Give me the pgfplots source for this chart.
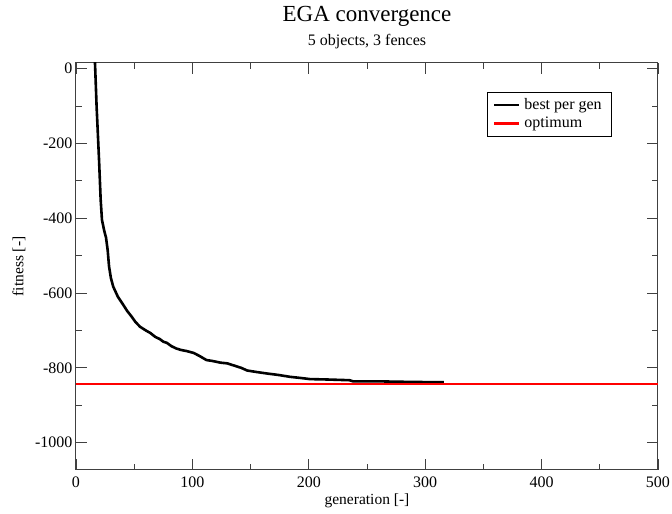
\documentclass[border=0pt]{standalone}
\usepackage{pgfplots}
\pgfplotsset{compat=1.18}
\usepackage{fontspec}
\setmainfont{Liberation Serif}
\begin{document}
\begin{tikzpicture}[x=1pt,y=1pt]
\useasboundingbox (-76,-44) rectangle (596,470);
\begin{axis}[
  at={(0,0)}, anchor=south west,
  scale only axis, width=582pt, height=407pt,
  xmin=0, xmax=500, ymin=-1073, ymax=15,
  xtick={0,100,...,500}, ytick={-1000,-800,...,0},
  minor xtick={50,150,...,450}, minor ytick={-900,-700,...,-100},
  tick align=inside, major tick length=11pt, minor tick length=6pt,
  every tick/.style={black!75, line width=0.9pt},
  axis line style={black!75, line width=1pt},
  tick label style={font=\rmfamily\fontsize{16}{19}\selectfont},
  /pgf/number format/assume math mode=true,
  /pgf/number format/1000 sep={},
  xticklabel style={yshift=-3pt},
  legend style={at={(0.921,0.929)}, anchor=north east, draw=black, line width=0.6pt,
    font=\fontsize{16}{19}\selectfont, row sep=1pt, inner xsep=6pt, inner ysep=4pt,
    nodes={inner xsep=4pt, inner ysep=2.5pt}},
  /tikz/every even column/.append style={column sep=5pt},
  legend cell align=left,
  legend image code/.code={\draw[#1] (0pt,0pt) -- (25pt,0pt);},
]
\addplot[black, line width=2.6pt, line join=round] coordinates {
(16,40) (16.5,0) (17.7,-101) (19.8,-244) (21.2,-351) (22.3,-404) (24,-430)
(25.8,-452) (27.2,-485) (28.4,-529) (30,-560) (32,-583) (36,-610) (40.7,-632)
(44,-648) (47.8,-663) (51,-677) (55,-690) (60,-700) (64,-707) (68,-717)
(72,-723) (75,-730) (78,-733) (82,-742) (86,-748) (90,-752) (95,-755)
(101,-760) (106,-768) (112,-779) (118,-782) (124,-786) (130,-788) (136,-794)
(142,-800) (147,-807) (155,-811) (164,-815) (174,-819) (184,-824) (193,-827)
(201,-830) (215,-831) (235,-833) (238,-836) (260,-836) (276,-837) (300,-838) (316,-838)
};
\addlegendentry{best per gen}
\addplot[red, line width=2.6pt] coordinates {(0,-843) (500,-843)};
\addlegendentry{optimum}
\end{axis}
\node[anchor=base, font=\fontsize{23}{27}\selectfont] at (291,448) {EGA convergence};
\node[anchor=base, font=\fontsize{16}{19}\selectfont] at (291,424) {5 objects, 3 fences};
\node[rotate=90, font=\fontsize{15.5}{18}\selectfont] at (-57,203.5) {fitness [-]};
\node[font=\fontsize{15.5}{18}\selectfont] at (291,-31) {generation [-]};
\end{tikzpicture}
\end{document}
